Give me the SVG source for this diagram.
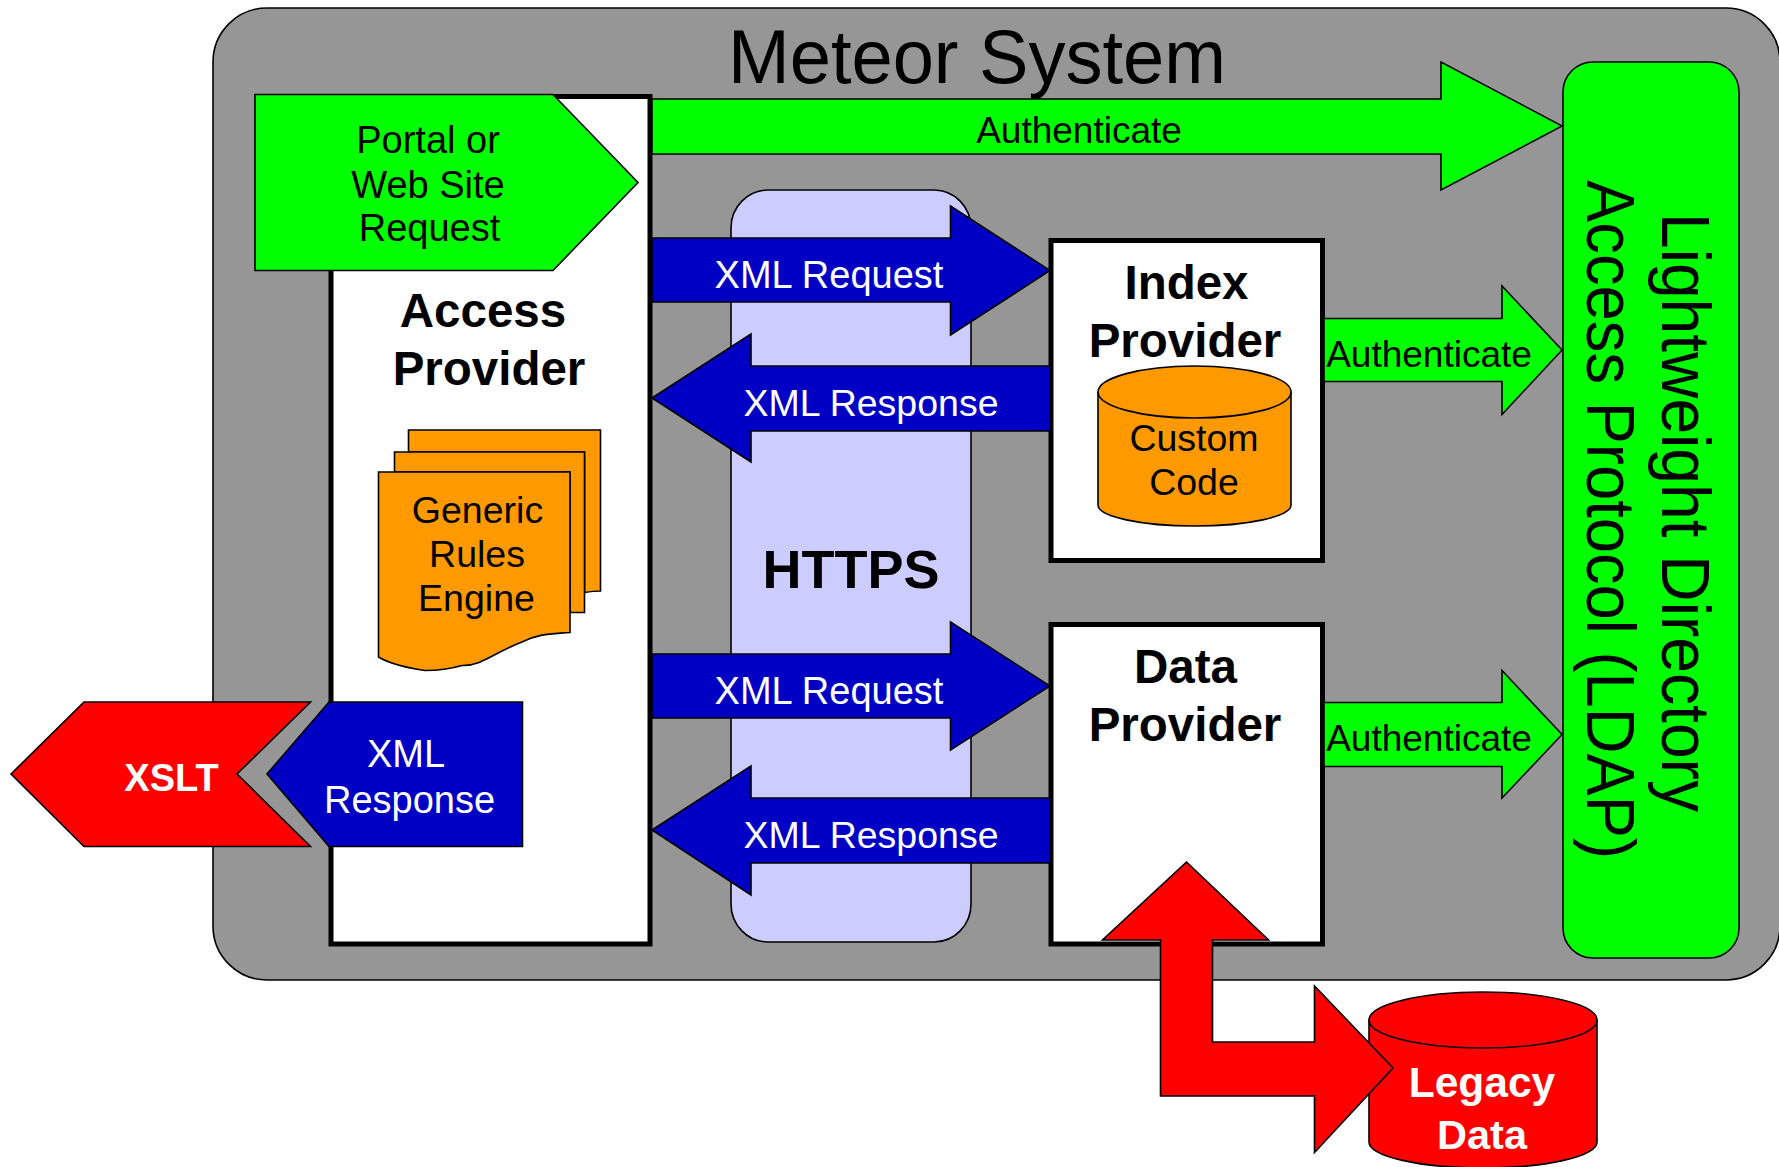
<svg xmlns="http://www.w3.org/2000/svg" width="1779" height="1167" viewBox="0 0 1779 1167">
<style>
text{font-family:"Liberation Sans",Arial,sans-serif;text-anchor:middle;fill:#000}
.s{stroke:#000;stroke-width:1.6;stroke-linejoin:miter}
.box{fill:#fff;stroke:#000;stroke-width:5}
.g{fill:#00ff00}.b{fill:#0000c4}.r{fill:#ff0000}.o{fill:#ff9900}
.t37{font-size:37px}.t38{font-size:38px}.t375{font-size:37.500px}.t48{font-size:47.500px;font-weight:bold}
.w{fill:#fff}.bd{font-weight:bold}
</style>
<rect width="1779" height="1167" fill="#fff"/>
<g id="meteor-system">
<rect x="213" y="8" width="1567" height="972" rx="54" ry="54" fill="#969696" class="s"/>
<text x="977" y="83" font-size="76" textLength="498" lengthAdjust="spacingAndGlyphs">Meteor System</text>
</g>
<g id="https">
<rect x="731" y="190" width="240" height="752" rx="37" ry="38" fill="#ccccff" class="s"/>
<text x="851" y="588" font-size="54" class="bd">HTTPS</text>
</g>
<g id="ldap">
<rect x="1563" y="62" width="176" height="896" rx="30" ry="30" class="s g"/>
<text transform="translate(1662,213) rotate(90)" style="text-anchor:start" font-size="69" textLength="599" lengthAdjust="spacingAndGlyphs">Lightweight Directory</text>
<text transform="translate(1587,180) rotate(90)" style="text-anchor:start" font-size="69" textLength="679" lengthAdjust="spacingAndGlyphs">Access Protocol (LDAP)</text>
</g>
<g id="access-provider">
<rect x="331" y="96.500" width="319" height="847.500" class="box"/>
<text x="483" y="326.500" class="t48">Access</text>
<text x="489" y="384.500" class="t48">Provider</text>
</g>
<g id="rules-engine">
<path d="M408.500 430H600.500V591Q594 591 584.500 592.500V452H408.500Z" class="s o"/>
<path d="M394.500 452H584.500V612.500H570V472H394.500Z" class="s o"/>
<path d="M378.500 472H570V632.500C552 634 540 633 522 642C495 652 482 666 462 665.500C450 669 437 670.500 425 670.500C408 668 390 664 378.500 657Z" class="s o"/>
<text x="477.500" y="523" class="t375">Generic</text>
<text x="477" y="566.500" class="t375">Rules</text>
<text x="476.500" y="610.500" class="t375">Engine</text>
</g>
<g id="portal-request">
<polygon points="255,94.500 553,94.500 638,182.500 553,270.500 255,270.500" class="s g"/>
<text x="428" y="153" class="t38">Portal or</text>
<text x="428" y="197.500" class="t38">Web Site</text>
<text x="429.500" y="241" class="t38">Request</text>
</g>
<g id="xslt">
<polygon points="11,774 84,702 310.500,702 237,774 310.500,846.500 84,846.500" class="s r"/>
<text x="171.500" y="791" font-size="38" class="bd w">XSLT</text>
</g>
<g id="xml-response-box">
<polygon points="267,774 329,702 522.500,702 522.500,846.500 329,846.500" class="s b"/>
<text x="406" y="767" class="t38 w">XML</text>
<text x="409.500" y="813" class="t38 w">Response</text>
</g>
<g id="index-provider">
<rect x="1051" y="240.500" width="271.500" height="320" class="box"/>
<text x="1186.500" y="298.500" class="t48">Index</text>
<text x="1185" y="356.500" class="t48">Provider</text>
</g>
<g id="custom-code">
<path d="M1098 392A96.500 26 0 0 1 1291 392V505A96.500 21 0 0 1 1098 505Z" class="s o"/>
<path d="M1098 392A96.500 26 0 0 0 1291 392" fill="none" class="s"/>
<text x="1194" y="450.500" class="t375">Custom</text>
<text x="1194" y="494.500" class="t375">Code</text>
</g>
<g id="data-provider">
<rect x="1051" y="624.500" width="271.500" height="319.500" class="box"/>
<text x="1185.500" y="682.500" class="t48">Data</text>
<text x="1185" y="740.500" class="t48">Provider</text>
</g>
<g id="legacy-data">
<path d="M1369 1020A114 28 0 0 1 1597 1020V1142A114 26 0 0 1 1369 1142Z" class="s r"/>
<path d="M1369 1020A114 28 0 0 0 1597 1020" fill="none" class="s"/>
<text x="1482" y="1097" font-size="42.500" class="bd w">Legacy</text>
<text x="1482" y="1149" font-size="41.500" class="bd w">Data</text>
</g>
<g id="connectors">
<polygon points="652,99 1441,99 1441,62 1562,126 1441,190 1441,154 652,154" class="s g"/>
<text x="1079" y="143" class="t37">Authenticate</text>
<polygon points="652,238 950.500,238 950.500,206 1050,270.500 950.500,335 950.500,302 652,302" class="s b"/>
<text x="829" y="288" class="t38 w">XML Request</text>
<polygon points="652,398 751,334 751,366 1050,366 1050,431 751,431 751,462" class="s b"/>
<text x="871" y="415.500" class="t375 w">XML Response</text>
<polygon points="652,654 950.500,654 950.500,622 1050,686 950.500,750 950.500,718 652,718" class="s b"/>
<text x="829" y="704" class="t38 w">XML Request</text>
<polygon points="652,830 751,766 751,798 1050,798 1050,863 751,863 751,895" class="s b"/>
<text x="871" y="847.500" class="t375 w">XML Response</text>
<polygon points="1324,318.500 1502,318.500 1502,286 1562,350 1502,414.500 1502,381.500 1324,381.500" class="s g"/>
<text x="1429" y="367" class="t37">Authenticate</text>
<polygon points="1324,702.500 1502,702.500 1502,670.500 1562,734.500 1502,798 1502,766.500 1324,766.500" class="s g"/>
<text x="1429" y="751" class="t37">Authenticate</text>
<polygon points="1186.500,862 1268.500,940 1212.500,940 1212.500,1042 1314.500,1042 1314.500,986 1393,1068 1314.500,1152.500 1314.500,1096 1160.500,1096 1160.500,940 1102.500,940" class="s r"/>
</g>
</svg>
